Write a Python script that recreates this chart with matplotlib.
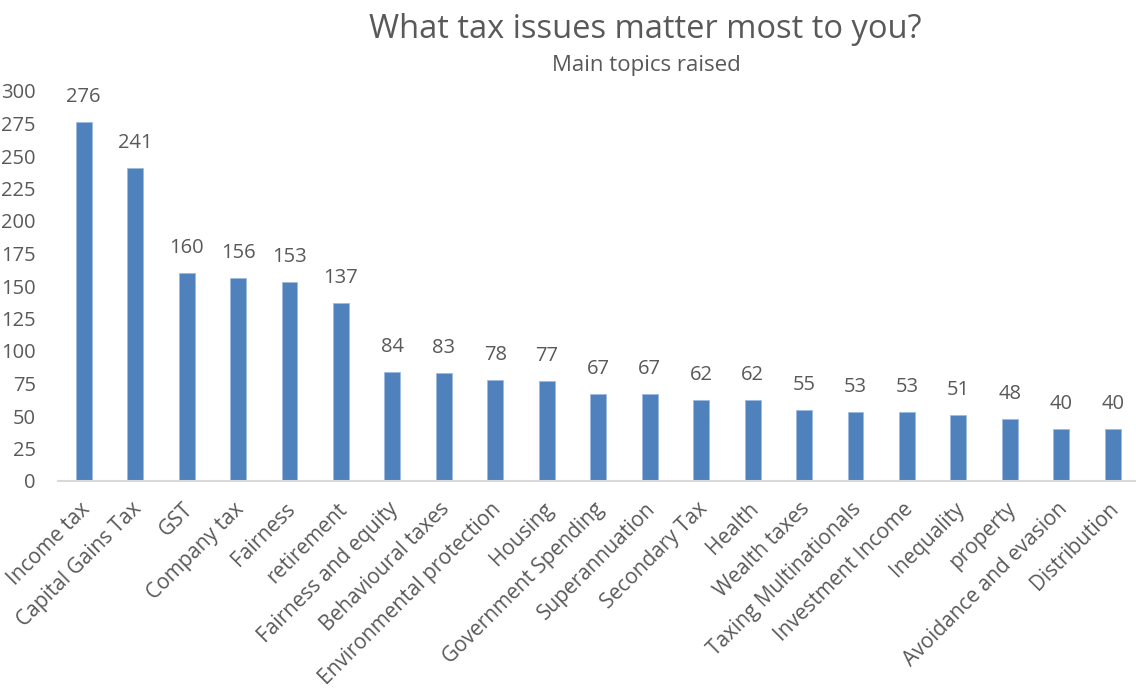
import matplotlib
matplotlib.use("Agg")
import matplotlib.pyplot as plt
import matplotlib.transforms as mtransforms

topics = [
    "Income tax", "Capital Gains Tax", "GST", "Company tax", "Fairness",
    "retirement", "Fairness and equity", "Behavioural taxes",
    "Environmental protection", "Housing", "Government Spending",
    "Superannuation", "Secondary Tax", "Health", "Wealth taxes",
    "Taxing Multinationals", "Investment Income", "Inequality", "property",
    "Avoidance and evasion", "Distribution",
]
counts = [276, 241, 160, 156, 153, 137, 84, 83, 78, 77, 67, 67, 62, 62,
          55, 53, 53, 51, 48, 40, 40]
y_ticks = list(range(0, 301, 25))

TEXT = "#595959"
BAR = "#4f81bd"
W, H = 1136, 697
FS = 14.5

plt.rcParams["font.family"] = ["Open Sans", "DejaVu Sans"]

fig = plt.figure(figsize=(W / 100, H / 100), dpi=100)
ax = fig.add_axes([58 / W, (H - 481) / H, (W - 58) / W, 390 / H])

x = list(range(len(topics)))
ax.bar(x, counts, width=0.31, color=BAR, edgecolor="#9dbadc", linewidth=0.6)

for xi, v in zip(x, counts):
    ax.annotate(str(v), (xi, v), xytext=(0, 18), textcoords="offset points",
                ha="center", va="center", fontsize=FS, color=TEXT)

ax.set_xlim(-0.5, -0.5 + (W - 58) / 51.45)
ax.set_ylim(0, 300)
ax.set_yticks(y_ticks)
ax.set_xticks(x)
ax.set_xticklabels([])

# slanted category labels, each ending just below its bar
shift = mtransforms.ScaledTranslation(3 / 100, -25 / 100, fig.dpi_scale_trans)
for xi, name in zip(x, topics):
    ax.text(xi, 0, name, transform=ax.get_xaxis_transform() + shift,
            rotation=45, rotation_mode="anchor", ha="right", va="center",
            fontsize=15, color=TEXT)

ax.tick_params(axis="both", length=0, labelsize=FS, labelcolor=TEXT)
ax.tick_params(axis="y", pad=16)
for side in ["left", "right", "top"]:
    ax.spines[side].set_visible(False)
ax.spines["bottom"].set_color("#d9d9d9")
ax.spines["bottom"].set_linewidth(1.5)

fig.text(645 / W, 1 - 29 / H, "What tax issues matter most to you?",
         ha="center", va="center", fontsize=23.5, color=TEXT)
fig.text(646 / W, 1 - 65 / H, "Main topics raised",
         ha="center", va="center", fontsize=16, color=TEXT)

fig.savefig("out.png", dpi=100)
